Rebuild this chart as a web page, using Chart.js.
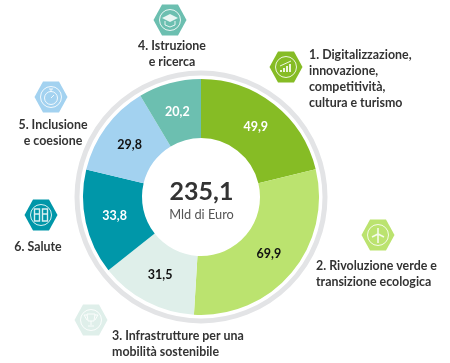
<!DOCTYPE html>
<html>
<head>
<meta charset="utf-8">
<title>PNRR</title>
<script src="https://cdn.jsdelivr.net/npm/chart.js@4/dist/chart.umd.min.js"></script>
<style>
  html, body { margin: 0; padding: 0; background: #fff; }
  #wrap { width: 450px; height: 363px; position: relative; }
</style>
</head>
<body>
<div id="wrap"><canvas id="chart" width="450" height="363"></canvas></div>
<script>
// Data
const categories = [
  '1. Digitalizzazione, innovazione, competitività, cultura e turismo',
  '2. Rivoluzione verde e transizione ecologica',
  '3. Infrastrutture per una mobilità sostenibile',
  '6. Salute',
  '5. Inclusione e coesione',
  '4. Istruzione e ricerca'
];
const values = [49.9, 69.9, 31.5, 33.8, 29.8, 20.2];
const sliceColors = ['#86BC25', '#BBE36F', '#DFEFEA', '#0097A9', '#A3D2F0', '#6CBFB0'];
const valueColors = ['#fff', '#111', '#111', '#fff', '#111', '#fff'];
const totalLabel = '235,1';
const unitLabel = 'Mld di Euro';

// Callouts: text and hexagon around the ring
const callouts = [
  { icon: 'bars', color: '#86BC25', hx: 286, hy: 67, align: 'left', tx: 309, ty: 55,
    lines: ['1. Digitalizzazione,', 'innovazione,', 'competitività,', 'cultura e turismo'] },
  { icon: 'wind', color: '#BBE36F', hx: 378, hy: 235, align: 'left', tx: 316, ty: 266,
    lines: ['2. Rivoluzione verde e', 'transizione ecologica'] },
  { icon: 'cup', color: '#DFEFEA', hx: 91, hy: 320, align: 'left', tx: 112, ty: 336,
    lines: ['3. Infrastrutture per una', 'mobilità sostenibile'] },
  { icon: 'cap', color: '#6CBFB0', hx: 170, hy: 20, align: 'center', tx: 172, ty: 46,
    lines: ['4. Istruzione', 'e ricerca'] },
  { icon: 'watch', color: '#A3D2F0', hx: 51, hy: 97, align: 'center', tx: 53, ty: 125,
    lines: ['5. Inclusione', 'e coesione'] },
  { icon: 'lungs', color: '#0097A9', hx: 41, hy: 215, align: 'center', tx: 38, ty: 247,
    lines: ['6. Salute'] }
];

function drawIcon(ctx, kind, x, y) {
  ctx.save();
  ctx.translate(x, y);
  ctx.strokeStyle = '#fff';
  ctx.fillStyle = '#fff';
  ctx.globalAlpha = 0.85;
  ctx.lineWidth = 1;
  ctx.beginPath();
  ctx.arc(0, 0, 10.5, 0, Math.PI * 2);
  ctx.stroke();
  ctx.beginPath();
  if (kind === 'bars') {
    [-6, -3, 0, 3].forEach((bx, i) => ctx.rect(bx, 5 - (i + 1) * 2, 2, (i + 1) * 2));
    ctx.fill();
    ctx.beginPath();
    ctx.moveTo(-6, -1);
    ctx.lineTo(5, -6);
    ctx.stroke();
  } else if (kind === 'wind') {
    ctx.moveTo(0, -1);
    ctx.lineTo(0, 8);
    ctx.moveTo(0, -7);
    ctx.lineTo(0, -1);
    ctx.moveTo(-6, 2);
    ctx.lineTo(0, -1);
    ctx.lineTo(6, 2);
    ctx.lineWidth = 1.6;
    ctx.stroke();
  } else if (kind === 'cup') {
    ctx.moveTo(-4, -6);
    ctx.lineTo(4, -6);
    ctx.lineTo(3, 1);
    ctx.lineTo(-3, 1);
    ctx.closePath();
    ctx.moveTo(0, 1);
    ctx.lineTo(0, 5);
    ctx.moveTo(-3, 6);
    ctx.lineTo(3, 6);
    ctx.moveTo(-4, -5);
    ctx.lineTo(-7, -5);
    ctx.lineTo(-4, 0);
    ctx.moveTo(4, -5);
    ctx.lineTo(7, -5);
    ctx.lineTo(4, 0);
    ctx.stroke();
  } else if (kind === 'cap') {
    ctx.moveTo(-8, -2);
    ctx.lineTo(0, -6);
    ctx.lineTo(8, -2);
    ctx.lineTo(0, 2);
    ctx.closePath();
    ctx.fill();
    ctx.beginPath();
    ctx.moveTo(-5, 1);
    ctx.lineTo(-5, 5);
    ctx.lineTo(0, 7);
    ctx.lineTo(5, 5);
    ctx.lineTo(5, 1);
    ctx.stroke();
  } else if (kind === 'watch') {
    ctx.arc(0, 1, 6.5, 0, Math.PI * 2);
    ctx.moveTo(0, -5);
    ctx.lineTo(0, -8);
    ctx.moveTo(-2, -8);
    ctx.lineTo(2, -8);
    ctx.moveTo(0, 1);
    ctx.lineTo(3, -2);
    ctx.stroke();
  } else if (kind === 'lungs') {
    ctx.rect(-6.5, -6, 5, 12);
    ctx.rect(1.5, -6, 5, 12);
    ctx.moveTo(-6.5, -1);
    ctx.lineTo(-1.5, -1);
    ctx.moveTo(1.5, -1);
    ctx.lineTo(6.5, -1);
    ctx.lineWidth = 1.4;
    ctx.stroke();
  }
  ctx.restore();
}

function drawHexagon(ctx, x, y, color) {
  ctx.fillStyle = color;
  ctx.beginPath();
  ctx.moveTo(x - 16.5, y);
  ctx.lineTo(x - 8, y - 15.5);
  ctx.lineTo(x + 8, y - 15.5);
  ctx.lineTo(x + 16.5, y);
  ctx.lineTo(x + 8, y + 15.5);
  ctx.lineTo(x - 8, y + 15.5);
  ctx.closePath();
  ctx.fill();
}

const decorPlugin = {
  id: 'decor',
  beforeDatasetsDraw(chart) {
    // grey ring round the doughnut
    const ctx = chart.ctx;
    const arc = chart.getDatasetMeta(0).data[0];
    ctx.save();
    ctx.strokeStyle = '#E3E4E6';
    ctx.lineWidth = 5;
    ctx.beginPath();
    ctx.arc(arc.x, arc.y, arc.outerRadius + 6, 0, Math.PI * 2);
    ctx.stroke();
    ctx.restore();
  },
  afterDatasetsDraw(chart) {
    const ctx = chart.ctx;
    const meta = chart.getDatasetMeta(0);
    ctx.save();
    ctx.textBaseline = 'middle';

    // values on the slices
    ctx.textAlign = 'center';
    ctx.font = 'bold 12.5px Lato';
    meta.data.forEach((el, i) => {
      const p = el.tooltipPosition();
      ctx.fillStyle = valueColors[i];
      ctx.fillText(values[i].toFixed(1).replace('.', ','), p.x, p.y);
    });

    // centre text
    const c = meta.data[0];
    ctx.fillStyle = '#333';
    ctx.font = 'bold 25px Lato';
    ctx.fillText(totalLabel, c.x + 0.5, c.y - 5);
    ctx.fillStyle = '#555';
    ctx.font = '12.8px Lato';
    ctx.fillText(unitLabel, c.x + 0.5, c.y + 18);

    // hexagons and labels
    callouts.forEach(o => {
      drawHexagon(ctx, o.hx, o.hy, o.color);
      drawIcon(ctx, o.icon, o.hx, o.hy);
      ctx.fillStyle = '#333';
      ctx.font = 'bold 12.4px Lato';
      ctx.textAlign = o.align;
      o.lines.forEach((line, i) => ctx.fillText(line, o.tx, o.ty + i * 16));
    });
    ctx.restore();
  }
};

new Chart(document.getElementById('chart').getContext('2d'), {
  type: 'doughnut',
  data: {
    labels: categories,
    datasets: [{
      data: values,
      backgroundColor: sliceColors,
      borderWidth: 0
    }]
  },
  options: {
    responsive: false,
    animation: false,
    cutout: '50%',
    layout: { padding: { left: 83, right: 131, top: 79, bottom: 48 } },
    plugins: { legend: { display: false }, tooltip: { enabled: false } }
  },
  plugins: [decorPlugin]
});
</script>
</body>
</html>
